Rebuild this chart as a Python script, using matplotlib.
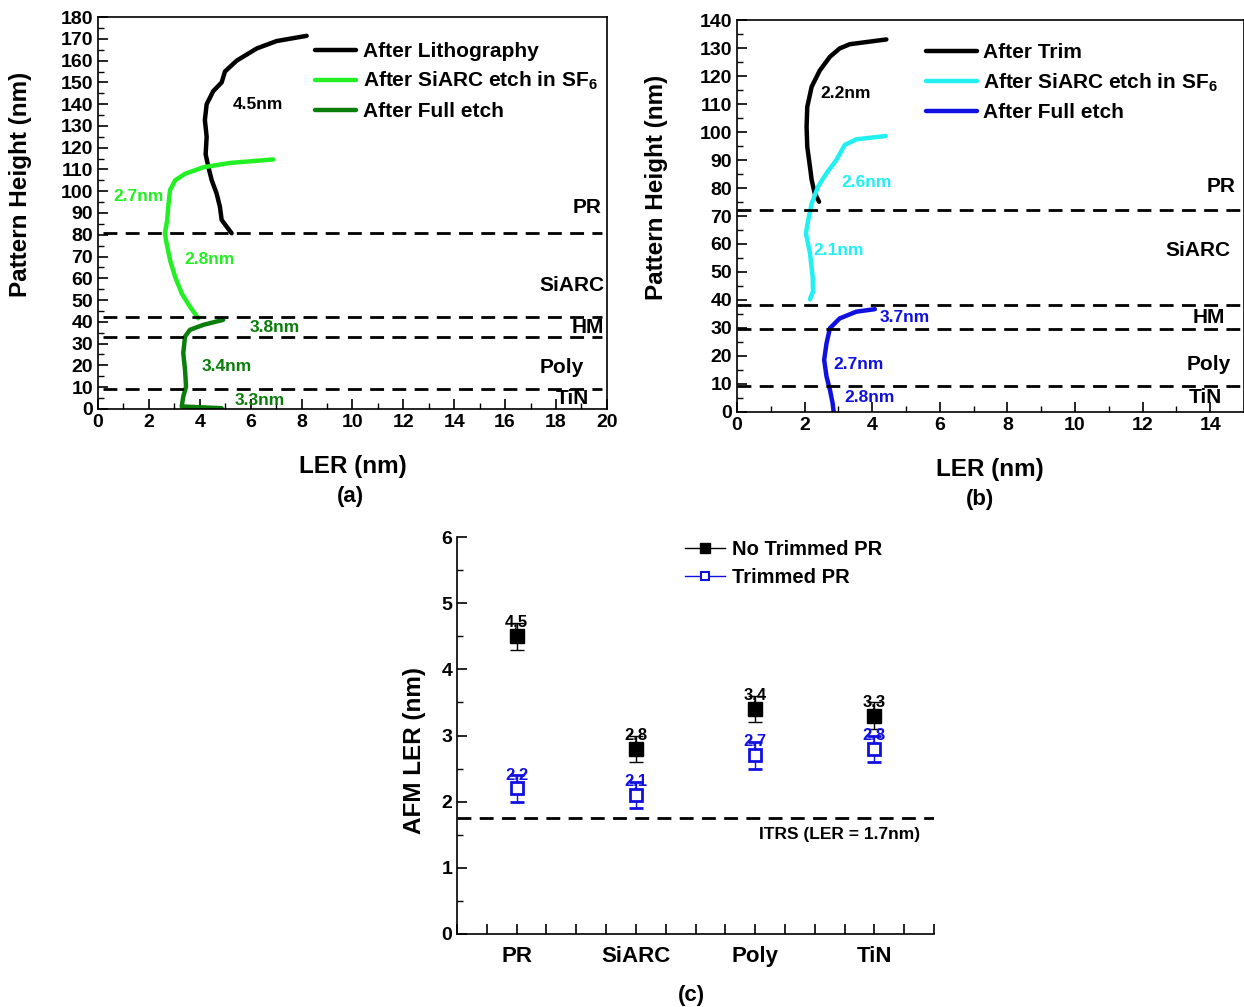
import matplotlib
matplotlib.use("Agg")
import matplotlib.pyplot as plt
from matplotlib.ticker import MultipleLocator
from matplotlib.lines import Line2D

plt.rcParams['font.family'] = ['Liberation Sans', 'DejaVu Sans']
plt.rcParams['font.weight'] = 'bold'
plt.rcParams['mathtext.fontset'] = 'custom'
plt.rcParams['mathtext.rm'] = 'Liberation Sans:bold'
plt.rcParams['mathtext.default'] = 'rm'

# ---- panel (a) data ----
litho_x = [5.25, 4.86, 4.79, 4.66, 4.47, 4.34, 4.23, 4.27, 4.2, 4.27, 4.53, 4.86, 4.99, 5.45, 6.24, 7.02, 8.2]
litho_y = [80.7, 86.8, 92.9, 99, 105, 111, 117, 125, 132.7, 140, 146, 150, 155, 160, 165.6, 169, 171.4]
siarc_a_x = [3.94, 3.61, 3.29, 3.03, 2.83, 2.67, 2.63, 2.72, 2.76, 2.83, 3.03, 3.42, 4.14, 5.19, 6.89]
siarc_a_y = [41.6, 47, 53, 60.7, 68.4, 77.6, 80.7, 86.8, 92.9, 100.5, 105, 108, 111, 113, 114.6]
full_a_x = [4.92, 4.14, 3.61, 3.42, 3.35, 3.42, 3.46, 3.35, 3.29, 4.86]
full_a_y = [40.9, 38.6, 36.3, 33.2, 25.6, 17.9, 10.2, 5.6, 1.1, 0.3]
bounds_a = [81, 42.3, 32.8, 9.3]
notes_a = [("4.5nm", 6.29, 140, "black"), ("2.7nm", 1.61, 97.8, "#22f022"),
           ("2.8nm", 4.4, 68.4, "#22f022"), ("3.8nm", 6.95, 37.6, "#0a7d0a"),
           ("3.4nm", 5.07, 19.3, "#0a7d0a"), ("3.3nm", 6.37, 3.7, "#0a7d0a")]
layers_a = [("PR", 19.8, 92.7), ("SiARC", 19.9, 56.5), ("HM", 19.9, 37.6),
            ("Poly", 19.1, 18.8), ("TiN", 19.3, 4.6)]

# ---- panel (b) data ----
trim_x = [2.43, 2.30, 2.21, 2.16, 2.08, 2.06, 2.08, 2.21, 2.45, 2.75, 3.04, 3.34, 4.42]
trim_y = [75.1, 78.1, 82.9, 87.6, 94.8, 101.9, 109, 116.2, 122, 126.9, 129.9, 131.4, 133.1]
siarc_b_x = [2.16, 2.25, 2.24, 2.16, 2.04, 2.11, 2.21, 2.40, 2.65, 2.94, 3.19, 3.53, 4.40]
siarc_b_y = [40.2, 43, 48.3, 56.7, 63.8, 68.6, 74.5, 80.5, 85.3, 90, 95.4, 97.4, 98.6]
full_b_x = [4.08, 3.53, 3.04, 2.75, 2.65, 2.58, 2.65, 2.75, 2.83, 2.86]
full_b_y = [36.7, 35.8, 33.4, 29.9, 24.5, 18.6, 12.6, 7.9, 3.1, 0.1]
bounds_b = [72.1, 38.2, 29.5, 9.3]
notes_b = [("2.2nm", 3.22, 113.9, "black"), ("2.6nm", 3.84, 82.1, "#22f0f0"),
           ("2.1nm", 3.01, 57.5, "#22f0f0"), ("3.7nm", 4.96, 33.6, "#1010e0"),
           ("2.7nm", 3.60, 17.1, "#1010e0"), ("2.8nm", 3.93, 5.0, "#1010e0")]
layers_b = [("PR", 14.75, 80.4), ("SiARC", 14.6, 57.5), ("HM", 14.45, 33.6),
            ("Poly", 14.6, 17.1), ("TiN", 14.35, 5.0)]

# ---- panel (c) data ----
layers = ["PR", "SiARC", "Poly", "TiN"]
no_trim = [4.5, 2.8, 3.4, 3.3]
no_trim_err = [0.2, 0.2, 0.2, 0.2]
trimmed = [2.2, 2.1, 2.7, 2.8]
trimmed_err = [0.2, 0.2, 0.2, 0.2]
no_trim_labels = ["4,5", "2,8", "3,4", "3,3"]
trimmed_labels = ["2,2", "2,1", "2,7", "2,8"]
itrs = 1.75

fig = plt.figure(figsize=(12.44, 10.07), dpi=100)
ax_a = fig.add_axes([0.0788, 0.594, 0.409, 0.389])
ax_b = fig.add_axes([0.5924, 0.591, 0.4076, 0.389])
ax_c = fig.add_axes([0.3674, 0.0725, 0.3834, 0.3942])

dash = (0, (5, 3))
lw = 3.2
note_fs = 12.5
layer_fs = 15
leg_fs = 15
title_fs = 17.5


def style_profile(ax, xmax, ymax, xstep, ystep):
    ax.set_xlim(0, xmax)
    ax.set_ylim(0, ymax)
    ax.xaxis.set_major_locator(MultipleLocator(xstep))
    ax.xaxis.set_minor_locator(MultipleLocator(xstep / 2))
    ax.yaxis.set_major_locator(MultipleLocator(ystep))
    ax.yaxis.set_minor_locator(MultipleLocator(ystep / 2))
    ax.tick_params(which="both", direction="in", top=False, right=False, labelsize=14)
    ax.tick_params(which="major", length=7, width=1.2)
    ax.tick_params(which="minor", length=4, width=1.0)
    for s in ax.spines.values():
        s.set_linewidth(1.2)


# panel (a)
style_profile(ax_a, 20, 180, 2, 10)
ax_a.plot(litho_x, litho_y, color="black", lw=lw, solid_capstyle="round", label="After Lithography")
ax_a.plot(siarc_a_x, siarc_a_y, color="#22f022", lw=lw, solid_capstyle="round", label="After SiARC etch in SF$_6$")
ax_a.plot(full_a_x, full_a_y, color="#0a7d0a", lw=lw, solid_capstyle="round", label="After Full etch")
for b in bounds_a:
    ax_a.axhline(b, xmin=0.01, xmax=0.99, color="black", lw=2, linestyle=dash)
for t, x, y, c in notes_a:
    ax_a.text(x, y, t, color=c, fontsize=note_fs, ha="center", va="center")
for t, x, y in layers_a:
    ax_a.text(x, y, t, fontsize=layer_fs, ha="right", va="center")
ax_a.legend(loc="upper left", bbox_to_anchor=(0.426, 0.937), frameon=False, fontsize=leg_fs,
            handlelength=2.0, handletextpad=0.3, labelspacing=0.45, borderpad=0, borderaxespad=0)

# panel (b)
style_profile(ax_b, 15, 140, 2, 10)
ax_b.set_xticks(range(0, 15, 2))
ax_b.plot(trim_x, trim_y, color="black", lw=lw, solid_capstyle="round", label="After Trim")
ax_b.plot(siarc_b_x, siarc_b_y, color="#22f0f0", lw=lw, solid_capstyle="round", label="After SiARC etch in SF$_6$")
ax_b.plot(full_b_x, full_b_y, color="#1010e0", lw=lw, solid_capstyle="round", label="After Full etch")
for b in bounds_b:
    ax_b.axhline(b, xmin=0, xmax=1, color="black", lw=2, linestyle=dash)
for t, x, y, c in notes_b:
    ax_b.text(x, y, t, color=c, fontsize=note_fs, ha="center", va="center")
for t, x, y in layers_b:
    ax_b.text(x, y, t, fontsize=layer_fs, ha="right", va="center")
ax_b.legend(loc="upper left", bbox_to_anchor=(0.373, 0.942), frameon=False, fontsize=leg_fs,
            handlelength=2.45, handletextpad=0.3, labelspacing=0.45, borderpad=0, borderaxespad=0)

# panel (c)
pos = [1, 2, 3, 4]
ax_c.set_xlim(0.5, 4.5)
ax_c.set_ylim(0, 6)
ax_c.spines["top"].set_visible(False)
ax_c.spines["right"].set_visible(False)
ax_c.set_xticks(pos)
ax_c.set_xticklabels(layers)
ax_c.xaxis.set_minor_locator(MultipleLocator(0.25))
ax_c.yaxis.set_major_locator(MultipleLocator(1))
ax_c.yaxis.set_minor_locator(MultipleLocator(0.5))
ax_c.tick_params(which="both", direction="in", labelsize=14)
ax_c.tick_params(axis="x", which="major", labelsize=16, pad=9)
ax_c.tick_params(which="major", length=7, width=1.2)
ax_c.tick_params(which="minor", length=4, width=1.0)
ax_c.tick_params(axis="x", which="minor", length=7, width=1.2)
for s in ax_c.spines.values():
    s.set_linewidth(1.2)

ax_c.errorbar(pos, no_trim, yerr=no_trim_err, fmt="s", color="black", ms=10, capsize=5,
              elinewidth=1, capthick=1, zorder=3)
ax_c.errorbar(pos, trimmed, yerr=trimmed_err, fmt="s", color="#1010e0", mfc="white", mec="#1010e0",
              mew=2, ms=9, capsize=5, elinewidth=1, capthick=1, zorder=3)
for x, v, t in zip(pos, no_trim, no_trim_labels):
    ax_c.text(x, v + 0.21, t, fontsize=12, ha="center", va="center", color="black", zorder=4)
for x, v, t in zip(pos, trimmed, trimmed_labels):
    ax_c.text(x, v + 0.21, t, fontsize=12, ha="center", va="center", color="#1010e0", zorder=4)
ax_c.axhline(itrs, color="black", lw=2, linestyle=dash)
ax_c.text(4.38, 1.5, "ITRS (LER = 1.7nm)", fontsize=12.5, ha="right", va="center")
handles = [Line2D([], [], color="black", marker="s", ms=7, lw=1),
           Line2D([], [], color="#1010e0", marker="s", mfc="white", mew=1.5, ms=6, lw=1)]
ax_c.legend(handles, ["No Trimmed PR", "Trimmed PR"], loc="upper left", bbox_to_anchor=(0.478, 0.993),
            frameon=False, fontsize=14.5, handlelength=2.0, handletextpad=0.35, labelspacing=0.45,
            borderpad=0, borderaxespad=0)

# captions and axis titles
fig.text(0.2838, 0.5363, "LER (nm)", fontsize=title_fs, ha="center", va="center")
fig.text(0.2814, 0.5065, "(a)", fontsize=16, ha="center", va="center")
fig.text(0.0161, 0.8173, "Pattern Height (nm)", fontsize=title_fs, ha="center", va="center", rotation=90)
fig.text(0.7958, 0.5333, "LER (nm)", fontsize=title_fs, ha="center", va="center")
fig.text(0.7878, 0.5035, "(b)", fontsize=16, ha="center", va="center")
fig.text(0.5281, 0.8143, "Pattern Height (nm)", fontsize=title_fs, ha="center", va="center", rotation=90)
fig.text(0.3336, 0.2552, "AFM LER (nm)", fontsize=title_fs, ha="center", va="center", rotation=90)
fig.text(0.5555, 0.0119, "(c)", fontsize=16, ha="center", va="center")

fig.savefig("out.png", dpi=100)
